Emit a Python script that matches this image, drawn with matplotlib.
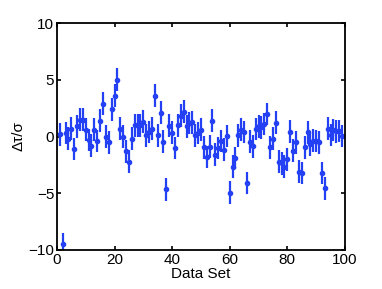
import matplotlib
matplotlib.use("Agg")
import matplotlib.pyplot as plt
import numpy as np

# Normalised residual for each data set
data_set = np.arange(1, 100)
residual = [
    0.2, -9.5, 0.3, -0.2, 0.7, -1.1, 0.9, 1.5, 1.5, 0.6,
    -0.3, -0.8, 0.6, -0.4, 1.4, 2.9, 0.0, -0.5, 2.4, 3.6,
    5.0, 0.7, 0.0, -1.3, -2.2, -0.2, 1.0, 1.0, 1.0, 1.3,
    0.1, 0.4, 0.7, 3.6, 0.1, 2.1, -0.45, -4.65, 0.95, 0.35,
    -1.0, 1.0, 1.85, 2.2, 0.9, 1.2, 1.25, 0.1, 0.3, 0.6,
    -0.95, -1.8, -0.9, 1.4, -1.6, -1.0, -0.4, -1.15, 0.05, -4.95,
    -2.65, -1.9, 0.1, 0.6, 0.4, -4.1, -0.45, -0.85, 0.66, 0.9,
    0.8, 1.1, 2.0, -0.95, -0.18, 1.23, -2.2, -2.35, -2.65, -2.0,
    0.42, -1.25, -0.5, -3.1, -3.2, -0.95, 0.38, -0.7, -0.35, -0.4,
    -0.5, -3.2, -4.55, 0.7, 0.13, 0.57, 0.45, 0.5, 0.05,
]
sigma = np.ones(len(residual))

plt.rcParams["font.family"] = ["Liberation Sans", "DejaVu Sans"]
plt.rcParams["font.size"] = 11

fig = plt.figure(figsize=(3.82, 2.89), dpi=100)
ax = fig.add_axes([0.149, 0.135, 0.754, 0.785])

ax.errorbar(
    data_set, residual, yerr=sigma, fmt="o", color="#2440f5",
    markersize=3, elinewidth=1.6, capsize=0,
)

ax.set_xlim(0, 100)
ax.set_ylim(-10, 10)
ax.set_xticks([0, 20, 40, 60, 80, 100])
ax.set_yticks([-10, -5, 0, 5, 10])
ax.tick_params(direction="in", top=True, right=True, length=3, width=1.2, pad=2)
for spine in ax.spines.values():
    spine.set_linewidth(1.3)

ax.set_xlabel("Data Set", labelpad=0)
ax.set_ylabel("Δτ/σ", labelpad=2)

fig.savefig("out.png", dpi=100)
